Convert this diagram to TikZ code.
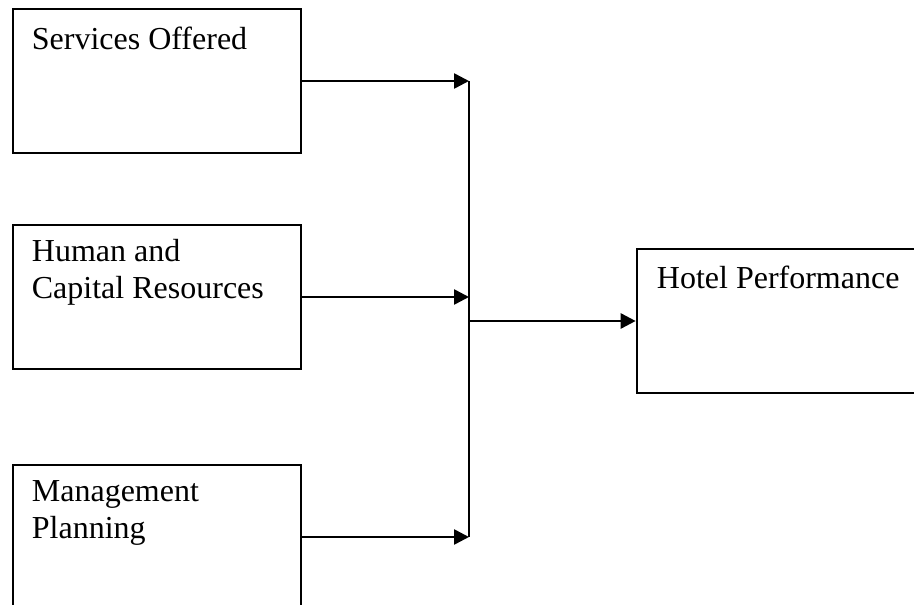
\documentclass[tikz,border=0pt]{standalone}
\usepackage{fontspec}
\setmainfont{Liberation Serif}
\usetikzlibrary{arrows.meta,positioning}
\tikzset{
  factor/.style={draw,line width=2.6pt,minimum width=288pt,minimum height=144pt,inner sep=0pt},
  factortext/.style={anchor=base west,inner sep=0pt,align=left,font=\fontsize{32}{37}\selectfont},
  wire/.style={line width=2.6pt},
  link/.style={wire,-{Triangle[length=15pt,width=15pt]}}
}
\begin{document}
\begin{tikzpicture}[x=1pt,y=-1pt]
\useasboundingbox (0,0) rectangle (914,605);
% the three factors
\node[factor](svc) at (157,81){};
\node[factortext](svc-txt) at ([shift={(20pt,-42pt)}]svc.north west){Services Offered};
\node[factor](res) at (157,297){};
\node[factortext](res-txt) at ([shift={(20pt,-75pt)}]res.north west){Human and\\Capital Resources};
\node[factor](mgt) at (157,537){};
\node[factortext](mgt-txt) at ([shift={(20pt,-75pt)}]mgt.north west){Management\\Planning};
% outcome
\node[factor](perf) at (781,321){};
\node[factortext](perf-txt) at ([shift={(21pt,-41pt)}]perf.north west){Hotel Performance};
% joining bar
\coordinate (join) at (469,321);
\draw[wire](svc -| join)--(mgt -| join);
\draw[link](svc.east)--(svc -| join);
\draw[link](res.east)--(res -| join);
\draw[link](mgt.east)--(mgt -| join);
\draw[link](join)--(perf.west);
\end{tikzpicture}
\end{document}
